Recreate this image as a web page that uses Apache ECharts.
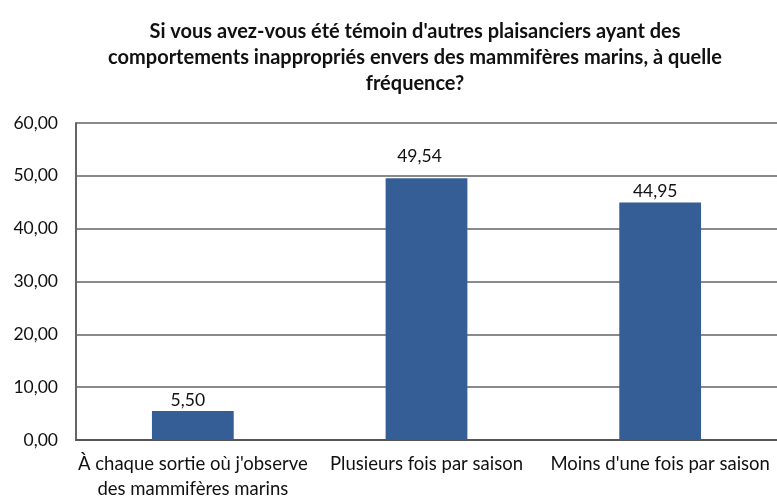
<!DOCTYPE html>
<html><head><meta charset="utf-8">
<script src="https://cdn.jsdelivr.net/npm/echarts@6/dist/echarts.min.js"></script>
<style>html,body{margin:0;padding:0;background:#fff}#c{width:777px;height:504px}</style>
</head><body><div id="c"></div>
<script>
const titleText = "Si vous avez-vous été témoin d'autres plaisanciers ayant des\ncomportements inappropriés envers des mammifères marins, à quelle\nfréquence?";
const categories = ["À chaque sortie où j'observe\ndes mammifères marins", "Plusieurs fois par saison", "Moins d'une fois par saison"];
const values = [5.50, 49.54, 44.95];
const yTicks = [0, 10, 20, 30, 40, 50, 60];

const F = 'Lato';
const labelDistance = [2, 13, 2];
const labelShift = [-5, -7, -5];
const chart = echarts.init(document.getElementById('c'), null, {renderer: 'canvas'});
chart.setOption({
  backgroundColor: '#fff',
  animation: false,
  title: {
    text: titleText,
    left: 410, top: 14, textAlign: 'center',
    textStyle: {fontFamily: F, fontWeight: 'bold', fontSize: 20, lineHeight: 26, color: '#111'}
  },
  grid: {left: 76, right: -3, top: 123, bottom: 64, containLabel: false},
  xAxis: {
    type: 'category', data: categories,
    axisLine: {lineStyle: {color: '#555', width: 2}},
    axisTick: {show: false},
    axisLabel: {fontFamily: F, fontSize: 18.5, color: '#111', margin: 12, lineHeight: 25, interval: 0}
  },
  yAxis: {
    type: 'value', min: yTicks[0], max: yTicks[yTicks.length - 1], interval: 10,
    axisLine: {show: true, lineStyle: {color: '#666', width: 2}},
    axisTick: {show: false},
    splitLine: {lineStyle: {color: '#8a8a8a', width: 2}},
    axisLabel: {fontFamily: F, fontSize: 17.5, color: '#111', margin: 18,
      formatter: v => v.toFixed(2).replace('.', ',')}
  },
  series: [{
    type: 'bar', barWidth: '35%',
    data: values.map((v, i) => ({value: v, label: {distance: labelDistance[i], offset: [labelShift[i], 0]}})),
    itemStyle: {color: '#365E96'},
    label: {show: true, position: 'top', fontFamily: F, fontSize: 17.5, color: '#111',
      formatter: p => p.value.toFixed(2).replace('.', ',')}
  }]
});
</script></body></html>
